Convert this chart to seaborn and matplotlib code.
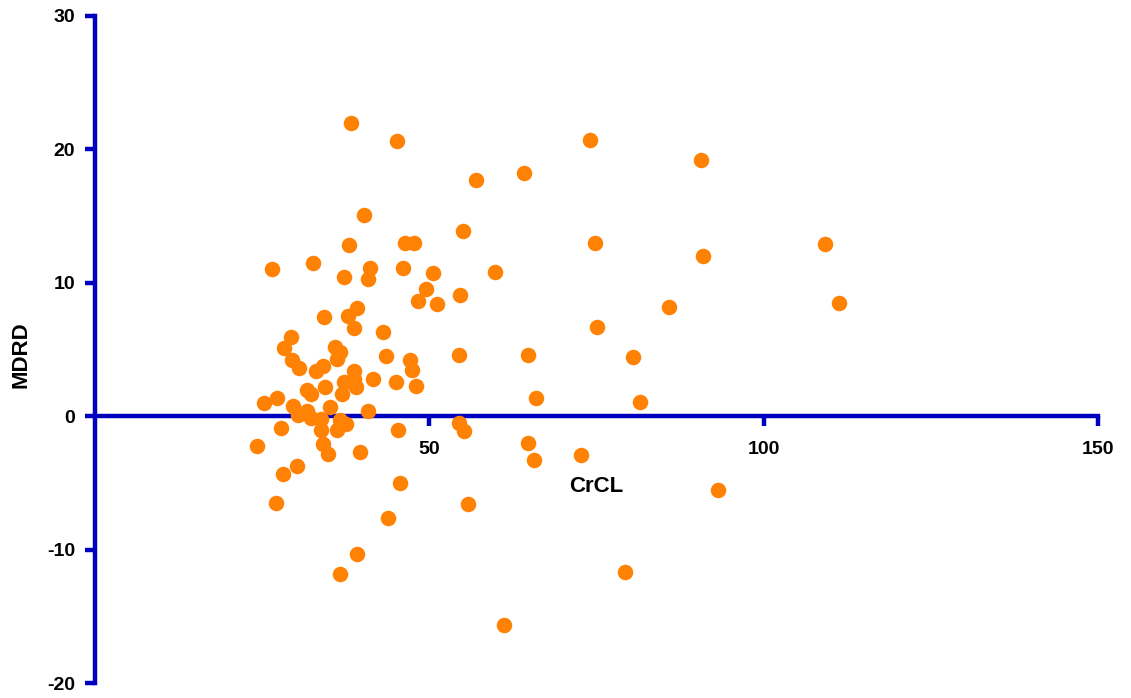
import matplotlib
matplotlib.use("Agg")
import matplotlib.pyplot as plt
import seaborn as sns
import pandas as pd

# Data
crcl = [38.3, 45.2, 74.0, 90.6, 64.2, 57.0, 40.3, 55.1, 38.0, 46.4,
        47.7, 74.8, 109.2, 90.9, 26.5, 32.7, 41.2, 46.1, 37.3, 40.9,
        50.6, 59.8, 49.5, 54.6, 48.3, 51.2, 111.3, 85.8, 39.2, 37.8,
        34.3, 38.8, 75.1, 43.1, 29.3, 28.3, 35.9, 36.7, 36.2, 54.5,
        64.8, 43.5, 80.5, 29.5, 30.5, 34.2, 33.1, 47.1, 47.5, 38.8,
        41.6, 37.2, 38.7, 39.1, 45.1, 34.4, 48.0, 31.7, 32.3, 36.9,
        27.3, 25.3, 66.0, 81.5, 29.7, 31.7, 35.1, 40.9, 30.4, 32.3,
        33.9, 36.6, 37.6, 36.2, 33.8, 27.9, 45.4, 54.5, 55.2, 24.3,
        34.1, 34.8, 39.7, 64.8, 72.7, 65.7, 30.3, 28.1, 45.7, 93.2,
        27.1, 55.8, 43.8, 39.2, 36.7, 79.3, 61.2]
mdrd = [22.0, 20.6, 20.7, 19.2, 18.2, 17.7, 15.1, 13.9, 12.8, 13.0,
        13.0, 13.0, 12.9, 12.0, 11.0, 11.5, 11.1, 11.1, 10.4, 10.3,
        10.7, 10.8, 9.5, 9.1, 8.6, 8.4, 8.5, 8.2, 8.1, 7.5,
        7.4, 6.6, 6.7, 6.3, 5.9, 5.1, 5.2, 4.8, 4.3, 4.6,
        4.6, 4.5, 4.4, 4.2, 3.6, 3.8, 3.4, 4.2, 3.5, 3.4,
        2.8, 2.6, 2.8, 2.2, 2.6, 2.2, 2.3, 2.0, 1.7, 1.7,
        1.4, 1.0, 1.4, 1.1, 0.8, 0.4, 0.7, 0.4, 0.1, -0.1,
        -0.2, -0.3, -0.6, -1.0, -1.0, -0.9, -1.0, -0.5, -1.1, -2.2,
        -2.1, -2.8, -2.7, -2.0, -2.9, -3.3, -3.7, -4.3, -5.0, -5.5,
        -6.5, -6.6, -7.6, -10.3, -11.8, -11.7, -15.6]

x_ticks = [50, 100, 150]
y_ticks = [-20, -10, 0, 10, 20, 30]

df = pd.DataFrame({"CrCL": crcl, "MDRD": mdrd})

sns.set_style("white")
plt.rcParams['font.family'] = ['Liberation Sans', 'DejaVu Sans']
plt.rcParams['font.weight'] = 'bold'
plt.rcParams['axes.unicode_minus'] = False
plt.rcParams['text.color'] = 'black'
plt.rcParams['axes.labelcolor'] = 'black'
plt.rcParams['xtick.color'] = 'black'
plt.rcParams['ytick.color'] = 'black'

BLUE = "#0000BF"
ORANGE = "#FF8205"

fig = plt.figure(figsize=(11.31, 6.98), dpi=100)
ax = fig.add_axes([0.0837, 0.0211, 0.8874, 0.9564])

sns.scatterplot(data=df, x="CrCL", y="MDRD", ax=ax, color=ORANGE,
                s=125, linewidth=0, edgecolor=None, zorder=3, clip_on=False)

ax.set_xlim(0, 150)
ax.set_ylim(-20, 30)
ax.set_xticks(x_ticks)
ax.set_yticks(y_ticks)

for side in ["top", "right"]:
    ax.spines[side].set_visible(False)
ax.spines["bottom"].set_position(("data", 0))
for side in ["left", "bottom"]:
    ax.spines[side].set_color(BLUE)
    ax.spines[side].set_linewidth(3.2)
    ax.spines[side].set_zorder(2)
    ax.spines[side].set_capstyle("projecting")

ax.tick_params(axis="x", bottom=True, direction="out", length=7, width=3.2,
               color=BLUE, labelcolor="black", pad=11, labelsize=14)
ax.tick_params(axis="y", left=True, direction="out", length=7, width=3.2,
               color=BLUE, labelcolor="black", pad=7, labelsize=14)
for lab in ax.get_xticklabels() + ax.get_yticklabels():
    lab.set_fontweight("bold")

ax.set_xlabel("CrCL", fontsize=16, fontweight="bold", color="black")
ax.set_ylabel("MDRD", fontsize=16, fontweight="bold", color="black")
ax.xaxis.set_label_coords(0.5, 0.31)
ax.yaxis.set_label_coords(-0.063, 0.492)

ax.grid(False)
fig.savefig("out.png", dpi=100)
